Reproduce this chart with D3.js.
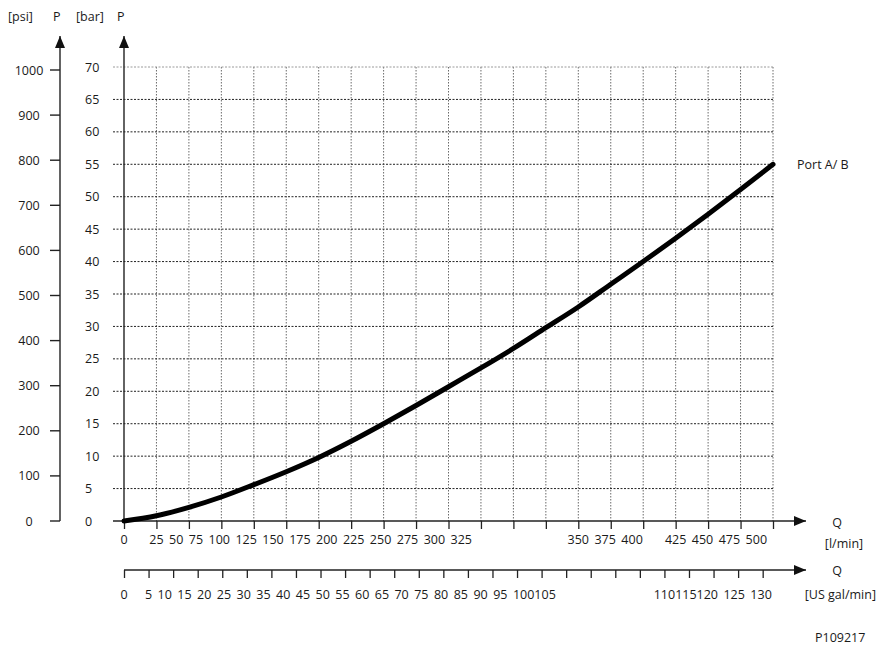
<!DOCTYPE html>
<html>
<head>
<meta charset="utf-8">
<script src="https://cdn.jsdelivr.net/npm/d3@7"></script>
<style>
  body { margin: 0; background: #fff; }
  svg { display: block; font-family: 'Open Sans', sans-serif; }
  .lbl { font-size: 12.5px; fill: #1a1a1a; }
</style>
</head>
<body>
<div id="chart"></div>
<script>
// flow Q [l/min] against pressure drop P [bar]
const flowLpm = [0, 25, 50, 75, 100, 125, 150, 175, 200, 225, 250, 275, 300, 325, 350, 375, 400, 425, 450, 475, 500];
const pressureBar = [0, 0.8, 2.1, 3.7, 5.6, 7.6, 9.8, 12.3, 15.0, 17.8, 20.7, 23.6, 26.6, 29.8, 33.0, 36.5, 40.0, 43.6, 47.3, 51.1, 55.0];

const barTicks = [0, 5, 10, 15, 20, 25, 30, 35, 40, 45, 50, 55, 60, 65, 70];
const psiTicks = [0, 100, 200, 300, 400, 500, 600, 700, 800, 900, 1000];
const lpmTicks = d3.range(0, 501, 25);
const galTicks = d3.range(0, 131, 5);

// tick labels are printed as runs of text; each run starts centred on its first tick
const lpmLabelRuns = [[0], [25, 50, 75, 100, 125, 150, 175, 200, 225, 250, 275, 300, 325], [350, 375, 400], [425, 450, 475, 500]];
const galLabelRuns = [[0], [5, 10, 15, 20, 25, 30, 35, 40, 45, 50, 55, 60, 65, 70, 75, 80, 85, 90, 95, 100, 105], [110, 115, 120, 125, 130]];
const galGlued = [100, 110, 115]; // no gap after these in the print

const LPM_PER_GAL = 3.785;
const seriesName = 'Port A/ B';
const figureId = 'P109217';

const width = 879, height = 645;
const xLeft = 124, xRight = 773, yBottom = 521, yTop = 67;
const psiAxisX = 60, galAxisY = 570, arrowEnd = 806, arrowTop = 36;

const x = d3.scaleLinear().domain([0, 500]).range([xLeft, xRight]);
const y = d3.scaleLinear().domain([0, 70]).range([yBottom, yTop]);
const yPsi = d3.scaleLinear().domain([0, 1000]).range([yBottom, 70]);
const xGal = g => x(g * LPM_PER_GAL);

const svg = d3.select('#chart').append('svg')
  .attr('width', width)
  .attr('height', height);

const defs = svg.append('defs');
defs.append('marker')
  .attr('id', 'arrow')
  .attr('markerUnits', 'userSpaceOnUse')
  .attr('viewBox', '0 0 12 10')
  .attr('refX', 12).attr('refY', 5)
  .attr('markerWidth', 12).attr('markerHeight', 10)
  .attr('orient', 'auto')
  .append('path')
    .attr('d', 'M0,0L12,5L0,10Z')
    .attr('fill', '#111');

// grid
const grid = svg.append('g').attr('class', 'grid');
grid.selectAll('.vgrid')
  .data(lpmTicks.slice(1))
  .enter()
    .append('line')
      .attr('class', 'vgrid')
      .attr('x1', d => x(d)).attr('x2', d => x(d))
      .attr('y1', y(70)).attr('y2', y(0))
      .attr('stroke', '#6a6a6a')
      .attr('stroke-width', 1)
      .attr('stroke-dasharray', '1.5,1.5');

grid.selectAll('.hgrid')
  .data(barTicks.slice(1))
  .enter()
    .append('line')
      .attr('class', 'hgrid')
      .attr('x1', xLeft - 11).attr('x2', x(500))
      .attr('y1', d => y(d)).attr('y2', d => y(d))
      .attr('stroke', d => d === 70 ? '#9a9a9a' : '#222')
      .attr('stroke-width', 1)
      .attr('stroke-dasharray', '2,1.5');

const axes = svg.append('g').attr('class', 'axes')
  .attr('stroke', '#222').attr('stroke-width', 1.4).attr('fill', 'none');

// P [bar] axis
axes.append('line')
  .attr('x1', xLeft).attr('x2', xLeft)
  .attr('y1', yBottom).attr('y2', arrowTop)
  .attr('marker-end', 'url(#arrow)');

// P [psi] axis
axes.append('line')
  .attr('x1', psiAxisX).attr('x2', psiAxisX)
  .attr('y1', yBottom).attr('y2', arrowTop)
  .attr('marker-end', 'url(#arrow)');
axes.selectAll('.psi-tick')
  .data(psiTicks)
  .enter()
    .append('line')
      .attr('x1', psiAxisX - 10).attr('x2', psiAxisX)
      .attr('y1', d => yPsi(d)).attr('y2', d => yPsi(d));

// Q [l/min] axis
axes.append('line')
  .attr('x1', xLeft - 11).attr('x2', arrowEnd)
  .attr('y1', yBottom).attr('y2', yBottom)
  .attr('marker-end', 'url(#arrow)');
const lpmAxis = svg.append('g')
  .attr('transform', `translate(0,${yBottom})`)
  .call(d3.axisBottom(x).tickValues(lpmTicks).tickSize(8).tickFormat(''));
lpmAxis.select('.domain').remove();
lpmAxis.selectAll('.tick line').attr('stroke', '#222').attr('stroke-width', 1.3);

// Q [US gal/min] axis
axes.append('line')
  .attr('x1', xLeft).attr('x2', arrowEnd)
  .attr('y1', galAxisY).attr('y2', galAxisY)
  .attr('marker-end', 'url(#arrow)');
const galAxis = svg.append('g')
  .attr('transform', `translate(0,${galAxisY})`)
  .call(d3.axisBottom(d3.scaleLinear().domain([0, 130]).range([xGal(0), xGal(130)]))
    .tickValues(galTicks).tickSize(8).tickFormat(''));
galAxis.select('.domain').remove();
galAxis.selectAll('.tick line').attr('stroke', '#222').attr('stroke-width', 1.3);

// curve
const line = d3.line()
  .x((d, i) => x(flowLpm[i]))
  .y(d => y(d))
  .curve(d3.curveMonotoneX);
svg.append('path')
  .datum(pressureBar)
  .attr('d', line)
  .attr('fill', 'none')
  .attr('stroke', '#000')
  .attr('stroke-width', 5)
  .attr('stroke-linecap', 'round');

// labels
const labels = svg.append('g').attr('class', 'lbl');

labels.selectAll('.bar-lbl')
  .data(barTicks)
  .enter()
    .append('text')
      .attr('x', 85)
      .attr('y', d => y(d) + 4.5)
      .text(d => d);

labels.selectAll('.psi-lbl')
  .data(psiTicks)
  .enter()
    .append('text')
      .attr('x', 29)
      .attr('y', d => yPsi(d) + 4.5)
      .attr('text-anchor', 'middle')
      .text(d => d);

function renderRuns(runs, scale, baseline, glued) {
  runs.forEach(run => {
    const t = labels.append('text')
      .attr('y', baseline)
      .attr('word-spacing', 2.2)
      .attr('xml:space', 'preserve')
      .text(run.map((v, i) => v + (i < run.length - 1 && !glued.includes(v) ? ' ' : '')).join(''));
    // centre the first label of the run on its tick
    const probe = labels.append('text').text(run[0]);
    const w = probe.node().getComputedTextLength();
    probe.remove();
    t.attr('x', scale(run[0]) - w / 2);
  });
}
renderRuns(lpmLabelRuns, x, 544, []);
renderRuns(galLabelRuns, xGal, 599, galGlued);

labels.append('text').attr('x', 8).attr('y', 21).attr('word-spacing', 2).text('[psi]');
labels.append('text').attr('x', 53).attr('y', 21).text('P');
labels.append('text').attr('x', 76).attr('y', 21).text('[bar]');
labels.append('text').attr('x', 117).attr('y', 21).text('P');

labels.append('text').attr('x', 837).attr('y', 527).attr('text-anchor', 'middle').text('Q');
labels.append('text').attr('x', 844).attr('y', 548).attr('text-anchor', 'middle').text('[l/min]');
labels.append('text').attr('x', 837).attr('y', 575).attr('text-anchor', 'middle').text('Q');
labels.append('text').attr('x', 876).attr('y', 599).attr('text-anchor', 'end').text('[US gal/min]');

labels.append('text').attr('x', 797).attr('y', 169).text(seriesName);
labels.append('text').attr('x', 815).attr('y', 642).text(figureId);
</script>
</body>
</html>
